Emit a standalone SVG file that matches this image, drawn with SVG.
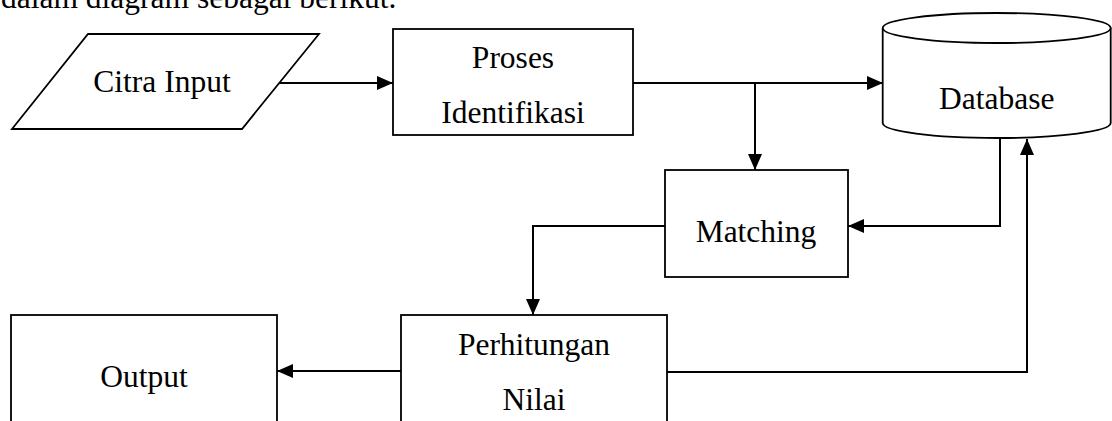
<svg xmlns="http://www.w3.org/2000/svg" width="1112" height="421" viewBox="0 0 1112 421">
<style>
  .shape { fill: #ffffff; stroke: #000000; stroke-width: 1.8; }
  .conn { fill: none; stroke: #000000; stroke-width: 2; }
  .lbl { font-family: "Liberation Serif", "Times New Roman", serif; font-size: 31.5px; fill: #000000; text-anchor: middle; }
  .caption { font-family: "Liberation Serif", "Times New Roman", serif; font-size: 31.5px; fill: #000000; }
</style>
<defs>
  <marker id="arrow" markerUnits="userSpaceOnUse" markerWidth="16" markerHeight="14" refX="16" refY="7" orient="auto">
    <path d="M0,0 L16,7 L0,14 z" fill="#000000"/>
  </marker>
</defs>
<rect x="0" y="0" width="1112" height="421" fill="#ffffff"/>
<text class="caption" x="1" y="8">dalam diagram sebagai berikut.</text>

<g id="connectors">
  <path class="conn" d="M279,83 H393" marker-end="url(#arrow)"/>
  <path class="conn" d="M633,83 H883" marker-end="url(#arrow)"/>
  <path class="conn" d="M755,83 V170" marker-end="url(#arrow)"/>
  <path class="conn" d="M1000,138 V226 H848" marker-end="url(#arrow)"/>
  <path class="conn" d="M665,226 H533 V315" marker-end="url(#arrow)"/>
  <path class="conn" d="M401,371 H277" marker-end="url(#arrow)"/>
  <path class="conn" d="M667,372 H1027 V139" marker-end="url(#arrow)"/>
</g>

<g id="citra-input">
  <polygon class="shape" points="88,34 319,34 242,129 12,129"/>
  <text class="lbl" x="162" y="92">Citra Input</text>
</g>

<g id="proses-identifikasi">
  <rect class="shape" x="393" y="29" width="240" height="106"/>
  <text class="lbl" x="513" y="68">Proses</text>
  <text class="lbl" x="513" y="123">Identifikasi</text>
</g>

<g id="database">
  <path class="shape" d="M882.7,28 V123 A114,15 0 0 0 1110.7,123 V28"/>
  <ellipse class="shape" cx="996.7" cy="28" rx="114" ry="15"/>
  <text class="lbl" x="996.7" y="109">Database</text>
</g>

<g id="matching">
  <rect class="shape" x="665" y="170" width="183" height="107"/>
  <text class="lbl" x="756" y="242">Matching</text>
</g>

<g id="perhitungan-nilai">
  <rect class="shape" x="401" y="315" width="266" height="130"/>
  <text class="lbl" x="534" y="355">Perhitungan</text>
  <text class="lbl" x="534" y="410">Nilai</text>
</g>

<g id="output">
  <rect class="shape" x="11" y="315" width="266" height="130"/>
  <text class="lbl" x="144" y="387">Output</text>
</g>
</svg>
